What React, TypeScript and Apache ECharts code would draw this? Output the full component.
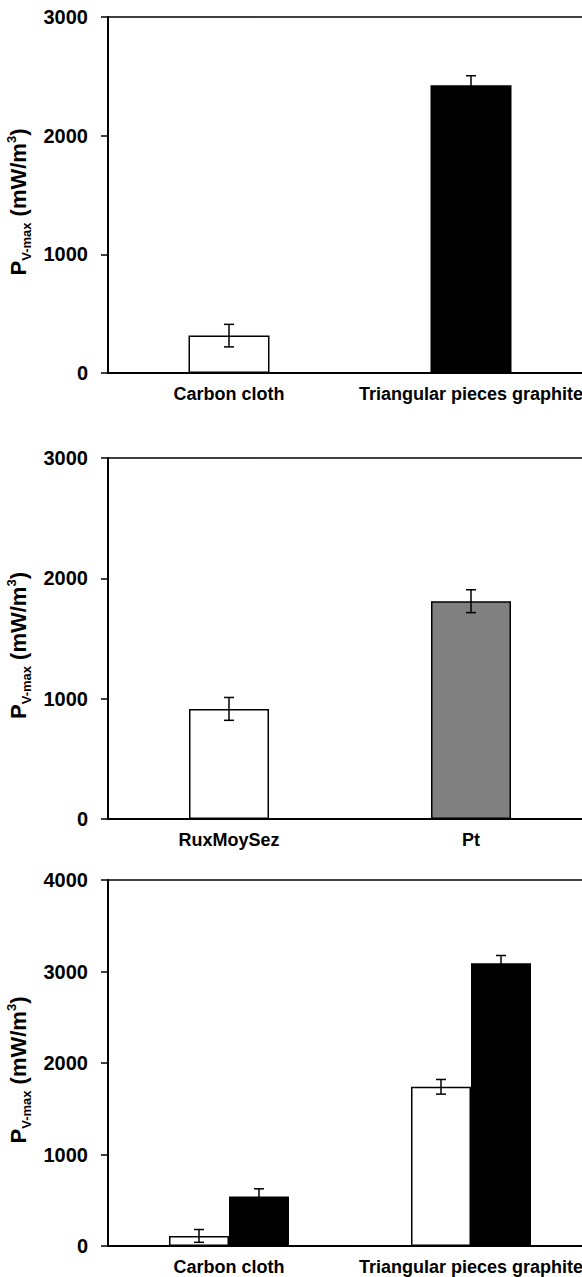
import React, { useEffect, useRef } from "react";
import * as echarts from "echarts";

// ---- Data ----
const cats1 = ["Carbon cloth", "Triangular pieces graphite"];
const vals1 = [315, 2425];
const errs1 = [95, 80];

const cats2 = ["RuxMoySez", "Pt"];
const vals2 = [915, 1810];
const errs2 = [95, 95];

const cats3 = ["Carbon cloth", "Triangular pieces graphite"];
const vals3White = [110, 1740];
const errs3White = [70, 80];
const vals3Black = [540, 3090];
const errs3Black = [85, 85];

const yTicks12 = { min: 0, max: 3000, interval: 1000 };
const yTicks3 = { min: 0, max: 4000, interval: 1000 };

// ---- Styles ----
const FONT = "Liberation Sans, Arial, sans-serif";
const colors1 = ["#ffffff", "#000000"];
const colors2 = ["#ffffff", "#808080"];

const yName = "{p|P}{s|V-max}{n| (mW/m}{sup|3}{n|)}";
const yNameRich = {
  p: { fontSize: 22, fontWeight: "bold", fontFamily: FONT, color: "#000", lineHeight: 28 },
  s: { fontSize: 13, fontWeight: "bold", fontFamily: FONT, color: "#000", lineHeight: 13, verticalAlign: "bottom" },
  n: { fontSize: 22, fontWeight: "bold", fontFamily: FONT, color: "#000", lineHeight: 28 },
  sup: { fontSize: 13, fontWeight: "bold", fontFamily: FONT, color: "#000", lineHeight: 13, verticalAlign: "top" },
};

const errRender = (offset: number) => (params: any, api: any) => {
  const x = api.value(0);
  const v = api.value(1);
  const e = api.value(2);
  const hi = api.coord([x, v + e]);
  const lo = api.coord([x, v - e]);
  const cx = hi[0] + offset;
  const hw = 5;
  const st = { stroke: "#000", lineWidth: 1.5 };
  return {
    type: "group",
    children: [
      { type: "line", shape: { x1: cx, y1: hi[1], x2: cx, y2: lo[1] }, style: st },
      { type: "line", shape: { x1: cx - hw, y1: hi[1], x2: cx + hw, y2: hi[1] }, style: st },
      { type: "line", shape: { x1: cx - hw, y1: lo[1], x2: cx + hw, y2: lo[1] }, style: st },
    ],
  };
};

const gridDefs = [
  { left: 108, top: 17, width: 484, height: 356, outerBoundsMode: "none", containLabel: false },
  { left: 108, top: 458, width: 484, height: 361, outerBoundsMode: "none", containLabel: false },
  { left: 108, top: 880, width: 484, height: 366, outerBoundsMode: "none", containLabel: false },
];

function xAxesFor(gi: number, cats: string[]) {
  return [
    {
      type: "category",
      gridIndex: gi,
      data: cats,
      position: "bottom",
      axisLine: { show: true, lineStyle: { color: "#000", width: 2 } },
      axisTick: { show: false },
      axisLabel: {
        interval: 0,
        color: "#000",
        fontFamily: FONT,
        fontWeight: "bold",
        fontSize: 18,
        margin: 12,
        hideOverlap: false,
      },
    },
    {
      type: "category",
      gridIndex: gi,
      data: cats,
      position: "top",
      axisLine: { show: true, onZero: false, lineStyle: { color: "#000", width: 1.5 } },
      axisTick: { show: false },
      axisLabel: { show: false },
    },
  ];
}

function yAxisFor(gi: number, ticks: { min: number; max: number; interval: number }) {
  return {
    type: "value",
    gridIndex: gi,
    min: ticks.min,
    max: ticks.max,
    interval: ticks.interval,
    name: yName,
    nameLocation: "middle",
    nameRotate: 90,
    nameGap: 72,
    nameTextStyle: { rich: yNameRich, padding: [0, 14, 0, 0] },
    axisLine: { show: true, lineStyle: { color: "#000", width: 2 } },
    axisTick: { show: true, inside: false, length: 7, lineStyle: { color: "#000", width: 1.5 } },
    splitLine: { show: false },
    axisLabel: {
      color: "#000",
      fontFamily: FONT,
      fontWeight: "bold",
      fontSize: 20,
      margin: 20,
      formatter: (v: number) => String(v),
    },
  };
}

export default function App() {
  const ref = useRef<HTMLDivElement>(null);

  useEffect(() => {
    if (!ref.current) return;
    const chart = echarts.init(ref.current, null, { renderer: "svg" });

    const option = {
      animation: false,
      backgroundColor: "#ffffff",
      grid: gridDefs,
      xAxis: [...xAxesFor(0, cats1), ...xAxesFor(1, cats2), ...xAxesFor(2, cats3)],
      yAxis: [yAxisFor(0, yTicks12), yAxisFor(1, yTicks12), yAxisFor(2, yTicks3)],
      series: [
        {
          type: "bar",
          xAxisIndex: 0,
          yAxisIndex: 0,
          barWidth: 81,
          data: vals1.map((v, i) => ({
            value: v,
            itemStyle: { color: colors1[i], borderColor: "#000", borderWidth: 1.5 },
          })),
        },
        {
          type: "custom",
          xAxisIndex: 0,
          yAxisIndex: 0,
          renderItem: errRender(0),
          encode: { x: 0, y: 1 },
          data: vals1.map((v, i) => [i, v, errs1[i]]),
          z: 10,
        },
        {
          type: "bar",
          xAxisIndex: 2,
          yAxisIndex: 1,
          barWidth: 80,
          data: vals2.map((v, i) => ({
            value: v,
            itemStyle: { color: colors2[i], borderColor: "#000", borderWidth: 1.5 },
          })),
        },
        {
          type: "custom",
          xAxisIndex: 2,
          yAxisIndex: 1,
          renderItem: errRender(0),
          encode: { x: 0, y: 1 },
          data: vals2.map((v, i) => [i, v, errs2[i]]),
          z: 10,
        },
        {
          type: "bar",
          xAxisIndex: 4,
          yAxisIndex: 2,
          barWidth: 60,
          barGap: "0%",
          itemStyle: { color: "#ffffff", borderColor: "#000", borderWidth: 1.5 },
          data: vals3White,
        },
        {
          type: "bar",
          xAxisIndex: 4,
          yAxisIndex: 2,
          barWidth: 60,
          barGap: "0%",
          itemStyle: { color: "#000000", borderColor: "#000", borderWidth: 1.5 },
          data: vals3Black,
        },
        {
          type: "custom",
          xAxisIndex: 4,
          yAxisIndex: 2,
          renderItem: errRender(-30),
          encode: { x: 0, y: 1 },
          data: vals3White.map((v, i) => [i, v, errs3White[i]]),
          z: 10,
        },
        {
          type: "custom",
          xAxisIndex: 4,
          yAxisIndex: 2,
          renderItem: errRender(30),
          encode: { x: 0, y: 1 },
          data: vals3Black.map((v, i) => [i, v, errs3Black[i]]),
          z: 10,
        },
      ],
    };

    chart.setOption(option as any);
    return () => chart.dispose();
  }, []);

  return (
    <div
      ref={ref}
      style={{ position: "absolute", left: 0, top: 0, width: 582, height: 1277, background: "#fff" }}
    />
  );
}
